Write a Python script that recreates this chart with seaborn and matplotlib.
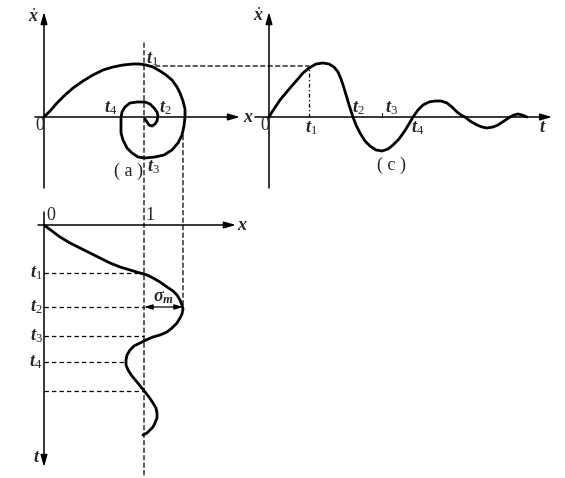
import matplotlib
matplotlib.use("Agg")
import matplotlib.pyplot as plt
from matplotlib.patches import ConnectionPatch
import seaborn as sns

# (a) phase trajectory: displacement x vs velocity x-dot
phase_x = [0.0, 0.06, 0.13, 0.21, 0.29, 0.39, 0.49, 0.59, 0.69, 0.79, 0.89, 0.96, 1.02,
           1.09, 1.16, 1.22, 1.28, 1.33, 1.36, 1.39, 1.41, 1.41, 1.40, 1.38, 1.34, 1.28,
           1.20, 1.11, 1.01, 0.94, 0.88, 0.83, 0.79, 0.77, 0.77, 0.77, 0.78, 0.81, 0.86,
           0.93, 1.01, 1.06, 1.10, 1.13, 1.14, 1.13, 1.11, 1.08, 1.05, 1.03, 1.01]
phase_v = [0.0, 0.12, 0.28, 0.44, 0.58, 0.72, 0.84, 0.94, 1.0, 1.04, 1.06, 1.06, 1.04,
           1.0, 0.92, 0.84, 0.74, 0.6, 0.48, 0.32, 0.16, 0.0, -0.18, -0.36, -0.52, -0.66,
           -0.76, -0.8, -0.82, -0.8, -0.72, -0.62, -0.46, -0.32, -0.18, -0.02, 0.1, 0.2,
           0.28, 0.3, 0.3, 0.26, 0.18, 0.1, 0.02, -0.08, -0.14, -0.18, -0.16, -0.1, -0.04]

# (c) velocity vs time
resp_t = [0.0, 0.075, 0.175, 0.275, 0.4, 0.525, 0.7, 0.85, 1.0, 1.175, 1.35, 1.5, 1.625,
          1.725, 1.8, 1.875, 1.95, 2.025, 2.1, 2.175, 2.275, 2.4, 2.525, 2.675, 2.825,
          2.975, 3.1, 3.25, 3.375, 3.5, 3.6, 3.725, 3.85, 4.0, 4.15, 4.3, 4.45, 4.575,
          4.7, 4.8, 4.9, 5.025, 5.2, 5.325, 5.45, 5.6, 5.725, 5.875, 6.025, 6.125, 6.225,
          6.325, 6.45]
resp_v = [0.0, 0.1, 0.22, 0.34, 0.46, 0.58, 0.74, 0.88, 0.98, 1.06, 1.08, 1.06, 1.0,
          0.9, 0.76, 0.58, 0.38, 0.18, 0.0, -0.16, -0.32, -0.48, -0.58, -0.66, -0.68,
          -0.64, -0.56, -0.44, -0.3, -0.14, 0.0, 0.14, 0.24, 0.3, 0.32, 0.32, 0.28, 0.2,
          0.1, 0.04, 0.0, -0.08, -0.16, -0.2, -0.22, -0.2, -0.16, -0.08, 0.0, 0.04, 0.06,
          0.04, 0.0]
resp_marks = [1.0, 2.1, 2.825, 3.6]

# (b) displacement vs time, time running downward
disp_x = [0.0, 0.08, 0.16, 0.26, 0.36, 0.46, 0.56, 0.66, 0.76, 0.86, 0.96, 1.03, 1.09,
          1.16, 1.23, 1.29, 1.33, 1.36, 1.38, 1.39, 1.38, 1.36, 1.33, 1.28, 1.23, 1.16,
          1.09, 1.02, 0.96, 0.90, 0.86, 0.83, 0.82, 0.82, 0.84, 0.88, 0.93, 0.97, 1.01,
          1.05, 1.09, 1.12, 1.13, 1.13, 1.11, 1.09, 1.06, 1.03, 0.99]
disp_t = [0.0, 0.12, 0.24, 0.36, 0.46, 0.56, 0.66, 0.76, 0.84, 0.9, 0.96, 1.0, 1.06,
          1.14, 1.24, 1.32, 1.4, 1.5, 1.6, 1.68, 1.78, 1.86, 1.96, 2.06, 2.14, 2.2, 2.24,
          2.3, 2.36, 2.42, 2.5, 2.6, 2.7, 2.8, 2.9, 3.02, 3.14, 3.24, 3.34, 3.44, 3.56,
          3.66, 3.76, 3.86, 3.96, 4.04, 4.1, 4.16, 4.2]
disp_marks = [0.96, 1.64, 2.22, 2.74, 3.32]
disp_mark_ends = [1.0, 1.0, 1.0, 0.81, 1.0]
disp_mark_labels = ["$t_1$", "$t_2$", "$t_3$", "$t_4$", ""]
overshoot = 1.39

sns.set_style("white")
plt.rcParams["font.family"] = ["Liberation Serif", "DejaVu Serif"]
plt.rcParams["mathtext.fontset"] = "custom"
plt.rcParams["mathtext.it"] = "Liberation Serif:italic:bold"
plt.rcParams["mathtext.rm"] = "Liberation Serif"

fig = plt.figure(figsize=(5.65, 4.78), dpi=100)
ax_a = fig.add_axes([0, 0, 1, 1])
ax_c = fig.add_axes([0, 0, 1, 1])
ax_b = fig.add_axes([0, 0, 1, 1])
ax_a.set_xlim(-0.44, 5.21)
ax_a.set_ylim(-7.22, 2.34)
ax_c.set_xlim(-6.725, 7.4)
ax_c.set_ylim(-7.22, 2.34)
ax_b.set_xlim(-0.44, 5.21)
ax_b.set_ylim(5.06, -4.5)
for ax in (ax_a, ax_b, ax_c):
    ax.axis("off")
    ax.patch.set_visible(False)

AX = dict(arrowstyle="-|>,head_length=0.7,head_width=0.2", lw=1.1, color="black",
          shrinkA=0, shrinkB=0)
DASH = dict(color="black", lw=0.9, ls=(0, (3.5, 2.5)))
TXT = dict(fontsize=13, ha="center", va="center")
CURVE = dict(sort=False, estimator=None, color="black", lw=2,
             solid_joinstyle="round", solid_capstyle="round")


def arrow_axis(ax, start, end):
    ax.annotate("", xy=end, xytext=start, arrowprops=AX)


# ---- (a)
arrow_axis(ax_a, (0, -1.42), (0, 2.1))
arrow_axis(ax_a, (-0.09, 0), (1.96, 0))
sns.lineplot(x=phase_x, y=phase_v, ax=ax_a, **CURVE)
ax_a.text(-0.11, 2.0, r"$\dot{x}$", **TXT)
ax_a.text(2.04, 0, "$x$", **TXT)
ax_a.text(-0.04, -0.17, "0", **TXT)
ax_a.text(1.08, 1.16, "$t_1$", **TXT)
ax_a.text(1.21, 0.18, "$t_2$", **TXT)
ax_a.text(1.09, -1.0, "$t_3$", **TXT)
ax_a.text(0.67, 0.18, "$t_4$", **TXT)
ax_a.text(0.84, -1.08, "( a )", **TXT)

# ---- (c)
arrow_axis(ax_c, (0, -1.42), (0, 2.1))
arrow_axis(ax_c, (-0.35, 0), (7.08, 0))
sns.lineplot(x=resp_t, y=resp_v, ax=ax_c, **CURVE)
ax_c.plot([resp_marks[0]] * 2, [0, 0.98], color="black", lw=0.9, ls=(0, (3, 2, 1, 2)))
ax_c.plot([resp_marks[2]] * 2, [0, 0.08], color="black", lw=0.8)
ax_c.text(-0.27, 2.02, r"$\dot{x}$", **TXT)
ax_c.text(-0.1, -0.18, "0", **TXT)
ax_c.text(6.85, -0.22, "$t$", **TXT)
ax_c.text(1.05, -0.22, "$t_1$", **TXT)
ax_c.text(2.22, 0.18, "$t_2$", **TXT)
ax_c.text(3.07, 0.18, "$t_3$", **TXT)
ax_c.text(3.72, -0.22, "$t_4$", **TXT)
ax_c.text(3.07, -0.96, "( c )", **TXT)

# ---- (b)
arrow_axis(ax_b, (0, -0.26), (0, 4.84))
arrow_axis(ax_b, (-0.06, 0), (1.92, 0))
sns.lineplot(x=disp_x, y=disp_t, ax=ax_b, **CURVE)
for tm, xe, lab in zip(disp_marks, disp_mark_ends, disp_mark_labels):
    ax_b.plot([0, xe], [tm, tm], **DASH)
    if lab:
        ax_b.text(-0.08, tm, lab, **TXT)
ax_b.text(1.98, 0, "$x$", **TXT)
ax_b.text(0.07, -0.18, "0", **TXT)
ax_b.text(1.06, -0.18, "1", **TXT)
ax_b.text(-0.07, 4.66, "$t$", **TXT)
ax_b.annotate("", xy=(overshoot, disp_marks[1]), xytext=(1.0, disp_marks[1]),
              arrowprops=dict(arrowstyle="<|-|>,head_length=0.5,head_width=0.15",
                              lw=0.9, color="black", shrinkA=0, shrinkB=0))
ax_b.text(1.19, 1.46, r"$\sigma_m$", **TXT)

# ---- guide lines linking the panels
links = [((1.04, 1.02), ax_a, (resp_marks[0], 1.02), ax_c),
         ((1.0, 1.48), ax_a, (1.0, 5.06), ax_b),
         ((overshoot, -0.22), ax_a, (overshoot, disp_marks[1]), ax_b)]
for pa, axa, pb, axb in links:
    con = ConnectionPatch(xyA=pa, coordsA=axa.transData, xyB=pb, coordsB=axb.transData,
                          color="black", lw=0.9, ls=(0, (3.5, 2.5)))
    fig.add_artist(con)

fig.savefig("out.png", dpi=100)
